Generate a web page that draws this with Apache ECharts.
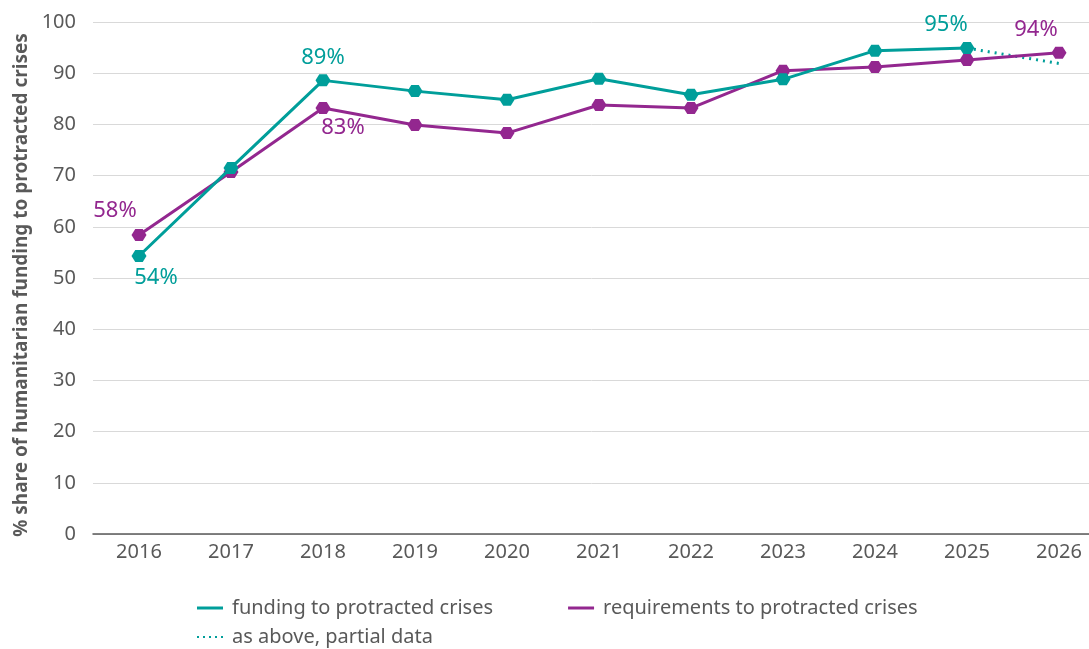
<!DOCTYPE html>
<html><head><meta charset="utf-8">
<script src="https://cdn.jsdelivr.net/npm/echarts@6/dist/echarts.min.js"></script>
<style>html,body{margin:0;padding:0;background:#fff}#c{width:1089px;height:649px}</style>
</head><body><div id="c"></div>
<script>
const years = ['2016','2017','2018','2019','2020','2021','2022','2023','2024','2025','2026'];
const funding = [54.3, 71.5, 88.6, 86.5, 84.8, 88.9, 85.8, 88.8, 94.4, 94.9, null];
const fundingPartial = [null, null, null, null, null, null, null, null, null, 94.9, 91.9];
const requirements = [58.4, 70.7, 83.2, 79.9, 78.3, 83.8, 83.2, 90.5, 91.2, 92.6, 94.0];
const yTicks = [0, 10, 20, 30, 40, 50, 60, 70, 80, 90, 100];

const TEAL = '#009E9A';
const PURPLE = '#93278F';
const FONT = 'Noto Sans';
const hex = 'path://M4,0 L12,0 L16,6 L12,12 L4,12 L0,6 Z';

function withLabels(values, labelMap) {
  return values.map((v, i) => {
    if (labelMap[i]) return { value: v, label: Object.assign({ show: true }, labelMap[i]) };
    return v;
  });
}
const pct = p => Math.round(p.value) + '%';

const fundingData = withLabels(funding, {
  0: { position: 'bottom', offset: [17, 0] },
  2: { position: 'top', offset: [0, -1] },
  9: { position: 'top', offset: [-21, -1] }
});
const reqData = withLabels(requirements, {
  0: { position: 'top', offset: [-24, -2] },
  2: { position: 'bottom', offset: [20, -2] },
  10: { position: 'top', offset: [-23, -1] }
});

const chart = echarts.init(document.getElementById('c'));
chart.setOption({
  animation: false,
  grid: { left: 93, right: -16, top: 22, bottom: 115, containLabel: false, outerBoundsMode: 'none' },
  xAxis: {
    type: 'category', data: years, boundaryGap: true,
    axisLine: { show: true, lineStyle: { color: '#595959', width: 1.5 } },
    axisTick: { show: false },
    axisLabel: { color: '#595959', fontSize: 20, fontFamily: FONT, margin: 8 }
  },
  yAxis: {
    type: 'value', min: 0, max: 100, interval: 10,
    name: '% share of humanitarian funding to protracted crises',
    nameLocation: 'middle', nameGap: 62, nameRotate: 90,
    nameTextStyle: { color: '#595959', fontSize: 19, fontWeight: 'bold', fontFamily: FONT, padding: [0, 14, 0, 0] },
    axisLine: { show: false }, axisTick: { show: false },
    axisLabel: { color: '#595959', fontSize: 20, fontFamily: FONT, margin: 17,
      formatter: v => yTicks.includes(v) ? String(v) : '' },
    splitLine: { lineStyle: { color: '#d9d9d9', width: 1 } }
  },
  legend: [
    { data: [
        { name: 'funding to protracted crises', icon: 'path://M0,0H26V3H0Z' },
        { name: 'requirements to protracted crises', icon: 'path://M0,0H26V3H0Z' }
      ],
      left: 192, top: 593, itemWidth: 26, itemHeight: 3, itemGap: 75,
      textStyle: { color: '#595959', fontSize: 20, fontFamily: FONT, padding: [0, 0, 0, 4] } },
    { data: [
        { name: 'as above, partial data', icon: 'path://M0,0h2v2h-2z M6,0h2v2h-2z M12,0h2v2h-2z M18,0h2v2h-2z M24,0h2v2h-2z' }
      ],
      left: 192, top: 622, itemWidth: 26, itemHeight: 2,
      textStyle: { color: '#595959', fontSize: 20, fontFamily: FONT, padding: [0, 0, 0, 4] } }
  ],
  series: [
    { name: 'as above, partial data', type: 'line', data: fundingPartial,
      symbol: 'none', lineStyle: { color: TEAL, width: 3, type: [2, 5] }, itemStyle: { color: TEAL }, z: 1 },
    { name: 'requirements to protracted crises', type: 'line', data: reqData,
      symbol: hex, symbolSize: [15, 12], showAllSymbol: true,
      lineStyle: { color: PURPLE, width: 3 }, itemStyle: { color: PURPLE },
      label: { show: false, color: PURPLE, fontSize: 22, fontFamily: FONT, formatter: pct }, z: 2 },
    { name: 'funding to protracted crises', type: 'line', data: fundingData,
      symbol: hex, symbolSize: [15, 12], showAllSymbol: true,
      lineStyle: { color: TEAL, width: 3 }, itemStyle: { color: TEAL },
      label: { show: false, color: TEAL, fontSize: 22, fontFamily: FONT, formatter: pct }, z: 3 }
  ]
});
</script></body></html>
